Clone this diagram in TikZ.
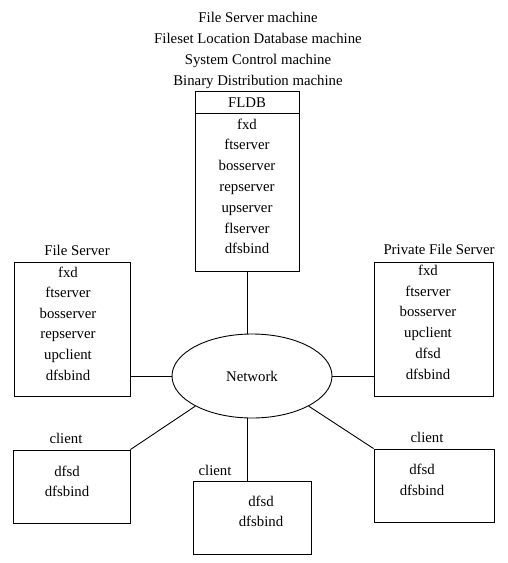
\documentclass[tikz,border=0pt]{standalone}
\usepackage{fontspec}
\setmainfont{Liberation Serif}
\usepackage{tikz}
\usetikzlibrary{shapes.geometric}

\begin{document}
\begin{tikzpicture}[x=1pt, y=-1pt, every node/.style={font=\fontsize{14.8}{17}\selectfont}]
    \tikzset{
        box/.style={draw, line width=0.9pt, inner sep=0pt},
        lbl/.style={anchor=base, inner sep=0pt},
        link/.style={line width=0.9pt}
    }
    \useasboundingbox (0,0) rectangle (508,563);

    % machine roles
    \foreach \t [count=\i] in {File Server machine, Fileset Location Database machine, System Control machine, Binary Distribution machine}{
        \node[lbl] (title-\i) at (258,{22+21*(\i-1)}) {\t};
    }

    % FLDB machine
    \node[box, minimum width=104, minimum height=180] (fldb) at (247,181) {};
    \draw[link] (fldb.west |- 0,113) -- (fldb.east |- 0,113);
    \node[lbl] (fldb-head) at (247,107) {FLDB};
    \foreach \t [count=\i] in {fxd,ftserver,bosserver,repserver,upserver,flserver,dfsbind}{
        \node[lbl] (fldb-\i) at (247,{129+20.8*(\i-1)}) {\t};
    }

    % file server
    \node[box, minimum width=116, minimum height=134] (fs) at (72,329) {};
    \node[lbl] (fs-name) at (77,255) {File Server};
    \foreach \t [count=\i] in {fxd,ftserver,bosserver,repserver,upclient,dfsbind}{
        \node[lbl] (fs-\i) at (68,{277+20.6*(\i-1)}) {\t};
    }

    % private file server
    \node[box, minimum width=119, minimum height=134] (pfs) at (433.5,329) {};
    \node[lbl] (pfs-name) at (439,254) {Private File Server};
    \foreach \t [count=\i] in {fxd,ftserver,bosserver,upclient,dfsd,dfsbind}{
        \node[lbl] (pfs-\i) at (428,{275.5+20.7*(\i-1)}) {\t};
    }

    % network
    \node[ellipse, draw, line width=0.9pt, minimum width=160, minimum height=84, inner sep=0pt] (net) at (252,376) {Network};

    % clients
    \node[box, minimum width=117, minimum height=73] (cl1) at (71.5,486.5) {};
    \node[lbl] (cl1-name) at (66,443) {client};
    \node[lbl] (cl1-a) at (67,476) {dfsd};
    \node[lbl] (cl1-b) at (67,496) {dfsbind};

    \node[box, minimum width=118, minimum height=73] (cl2) at (252,517.5) {};
    \node[lbl] (cl2-name) at (215,475) {client};
    \node[lbl] (cl2-a) at (261,506) {dfsd};
    \node[lbl] (cl2-b) at (261,526) {dfsbind};

    \node[box, minimum width=120, minimum height=73] (cl3) at (434,485.5) {};
    \node[lbl] (cl3-name) at (427,442) {client};
    \node[lbl] (cl3-a) at (422,474) {dfsd};
    \node[lbl] (cl3-b) at (422,495) {dfsbind};

    % links to the network
    \draw[link] (fldb.south) -- (fldb.south |- net.north);
    \draw[link] (net.west) -- (net.west -| fs.east);
    \draw[link] (net.east) -- (net.east -| pfs.west);
    \draw[link] (net.208) -- (cl1.north east);
    \draw[link] (net.-28) -- (cl3.north west);
    \draw[link] (fldb.south |- net.south) -- (fldb.south |- cl2.north);
\end{tikzpicture}
\end{document}
